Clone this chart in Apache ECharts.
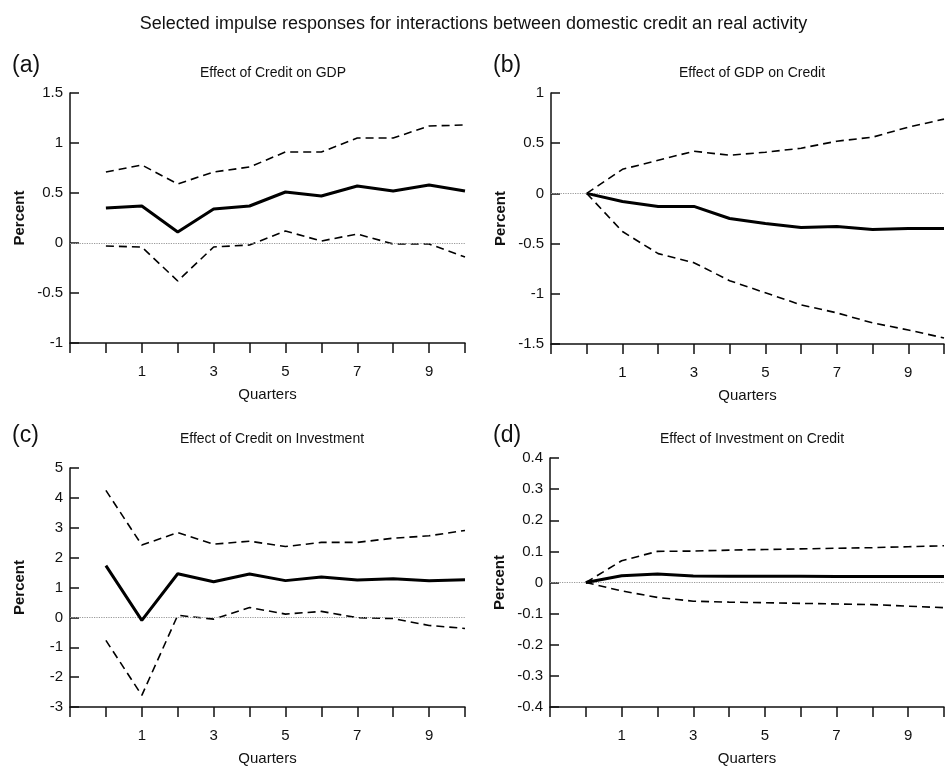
<!DOCTYPE html>
<html>
<head>
<meta charset="utf-8">
<script src="https://cdn.jsdelivr.net/npm/echarts@6/dist/echarts.min.js"></script>
<style>
  html, body { margin: 0; padding: 0; background: #fff; }
  #main { width: 947px; height: 767px; }
</style>
</head>
<body>
<div id="main"></div>
<script>
// quarters after the shock
const quarters = [0, 1, 2, 3, 4, 5, 6, 7, 8, 9, 10]

// (a) credit -> GDP
const gdpMid = [0.35, 0.37, 0.11, 0.34, 0.37, 0.51, 0.47, 0.57, 0.52, 0.58, 0.52]
const gdpUp = [0.71, 0.78, 0.59, 0.71, 0.76, 0.91, 0.91, 1.05, 1.05, 1.17, 1.18]
const gdpLow = [-0.03, -0.04, -0.38, -0.04, -0.02, 0.12, 0.02, 0.09, -0.01, -0.01, -0.14]

// (b) GDP -> credit
const credMid = [0, -0.08, -0.13, -0.13, -0.25, -0.3, -0.34, -0.33, -0.36, -0.35, -0.35]
const credUp = [0, 0.24, 0.33, 0.42, 0.38, 0.41, 0.45, 0.52, 0.56, 0.66, 0.74]
const credLow = [0, -0.38, -0.6, -0.69, -0.87, -0.99, -1.11, -1.19, -1.29, -1.36, -1.44]

// (c) credit -> investment
const invMid = [1.73, -0.1, 1.46, 1.19, 1.45, 1.23, 1.35, 1.25, 1.29, 1.23, 1.26]
const invUp = [4.25, 2.42, 2.84, 2.45, 2.55, 2.37, 2.51, 2.51, 2.65, 2.73, 2.91]
const invLow = [-0.77, -2.61, 0.07, -0.06, 0.33, 0.11, 0.2, -0.01, -0.04, -0.27, -0.37]

// (d) investment -> credit
const icMid = [0, 0.022, 0.027, 0.021, 0.02, 0.02, 0.02, 0.019, 0.019, 0.019, 0.019]
const icUp = [0, 0.07, 0.1, 0.101, 0.104, 0.106, 0.108, 0.11, 0.112, 0.115, 0.118]
const icLow = [0, -0.027, -0.048, -0.06, -0.063, -0.065, -0.067, -0.069, -0.071, -0.076, -0.081]

const yRanges = [[-1, 1.5, 0.5], [-1.5, 1, 0.5], [-3, 5, 1], [-0.4, 0.4, 0.1]]
const subTitles = ['Effect of Credit on GDP', 'Effect of GDP on Credit',
  'Effect of Credit on Investment', 'Effect of Investment on Credit']
const letters = ['(a)', '(b)', '(c)', '(d)']
const panels = [[gdpMid, gdpUp, gdpLow], [credMid, credUp, credLow],
  [invMid, invUp, invLow], [icMid, icUp, icLow]]

const FONT = 'Liberation Sans, Arial, sans-serif'

let chart = echarts.init(document.querySelector('#main'))

const grids = [
  { left: 70, top: 93, width: 395, height: 250 },
  { left: 551, top: 93, width: 395, height: 251 },
  { left: 70, top: 468, width: 395, height: 240 },
  { left: 550, top: 458, width: 396, height: 250 }
]

const pair = (arr) => quarters.map((q, i) => [q, arr[i]])

let xAxes = [], yAxes = [], series = []
grids.forEach((g, k) => {
  xAxes.push({
    type: 'value', gridIndex: k, min: -1, max: 10, interval: 1,
    name: 'Quarters', nameLocation: 'middle', nameGap: 44,
    nameTextStyle: { fontFamily: FONT, fontSize: 15, color: '#111' },
    axisLine: { onZero: false, lineStyle: { color: '#111', width: 1.5 } },
    axisTick: { inside: false, length: 10, lineStyle: { color: '#111', width: 1.5 } },
    axisLabel: {
      margin: 21, fontFamily: FONT, fontSize: 15, color: '#111',
      formatter: v => (v % 2 === 1 && v > 0 && v < 10) ? String(v) : ''
    },
    splitLine: { show: false }
  })
  yAxes.push({
    type: 'value', gridIndex: k, min: yRanges[k][0], max: yRanges[k][1], interval: yRanges[k][2],
    name: 'Percent', nameLocation: 'middle', nameGap: 43,
    nameTextStyle: { fontFamily: FONT, fontSize: 15, fontWeight: 'bold', color: '#111' },
    axisLine: { show: true, onZero: false, lineStyle: { color: '#111', width: 1.5 } },
    axisTick: { show: true, inside: true, length: 9, lineStyle: { color: '#111', width: 1.5 } },
    axisLabel: {
      margin: 7, fontFamily: FONT, fontSize: 15, color: '#111',
      formatter: v => String(Math.round(v * 10) / 10)
    },
    splitLine: { show: false }
  })
  const [mid, up, low] = panels[k]
  series.push({
    type: 'line', xAxisIndex: k, yAxisIndex: k, data: pair(mid), symbol: 'none', z: 5,
    lineStyle: { color: '#000', width: 3 },
    markLine: {
      silent: true, symbol: 'none', label: { show: false },
      lineStyle: { color: '#999', type: 'dotted', width: 1.2 },
      data: [{ yAxis: 0 }]
    }
  })
  ;[up, low].forEach(band => {
    series.push({
      type: 'line', xAxisIndex: k, yAxisIndex: k, data: pair(band), symbol: 'none', z: 4,
      lineStyle: { color: '#000', width: 1.6, type: [8, 5] }
    })
  })
})

const titles = [{
  text: 'Selected impulse responses for interactions between domestic credit an real activity',
  left: 'center', top: 10,
  textStyle: { fontFamily: FONT, fontSize: 18, fontWeight: 'normal', color: '#111' }
}]
const subPos = [[268, 61], [747, 61], [267, 427], [747, 427]]
const letterPos = [[7, 49], [488, 49], [7, 419], [488, 419]]
subTitles.forEach((t, k) => {
  titles.push({
    text: t, left: subPos[k][0], top: subPos[k][1], textAlign: 'center',
    textStyle: { fontFamily: FONT, fontSize: 14, fontWeight: 'normal', color: '#111' }
  })
  titles.push({
    text: letters[k], left: letterPos[k][0], top: letterPos[k][1],
    textStyle: { fontFamily: FONT, fontSize: 23, fontWeight: 'normal', color: '#111' }
  })
})

let option = {
  backgroundColor: '#fff',
  animation: false,
  title: titles,
  grid: grids,
  xAxis: xAxes,
  yAxis: yAxes,
  series: series
}
chart.setOption(option)
</script>
</body>
</html>
